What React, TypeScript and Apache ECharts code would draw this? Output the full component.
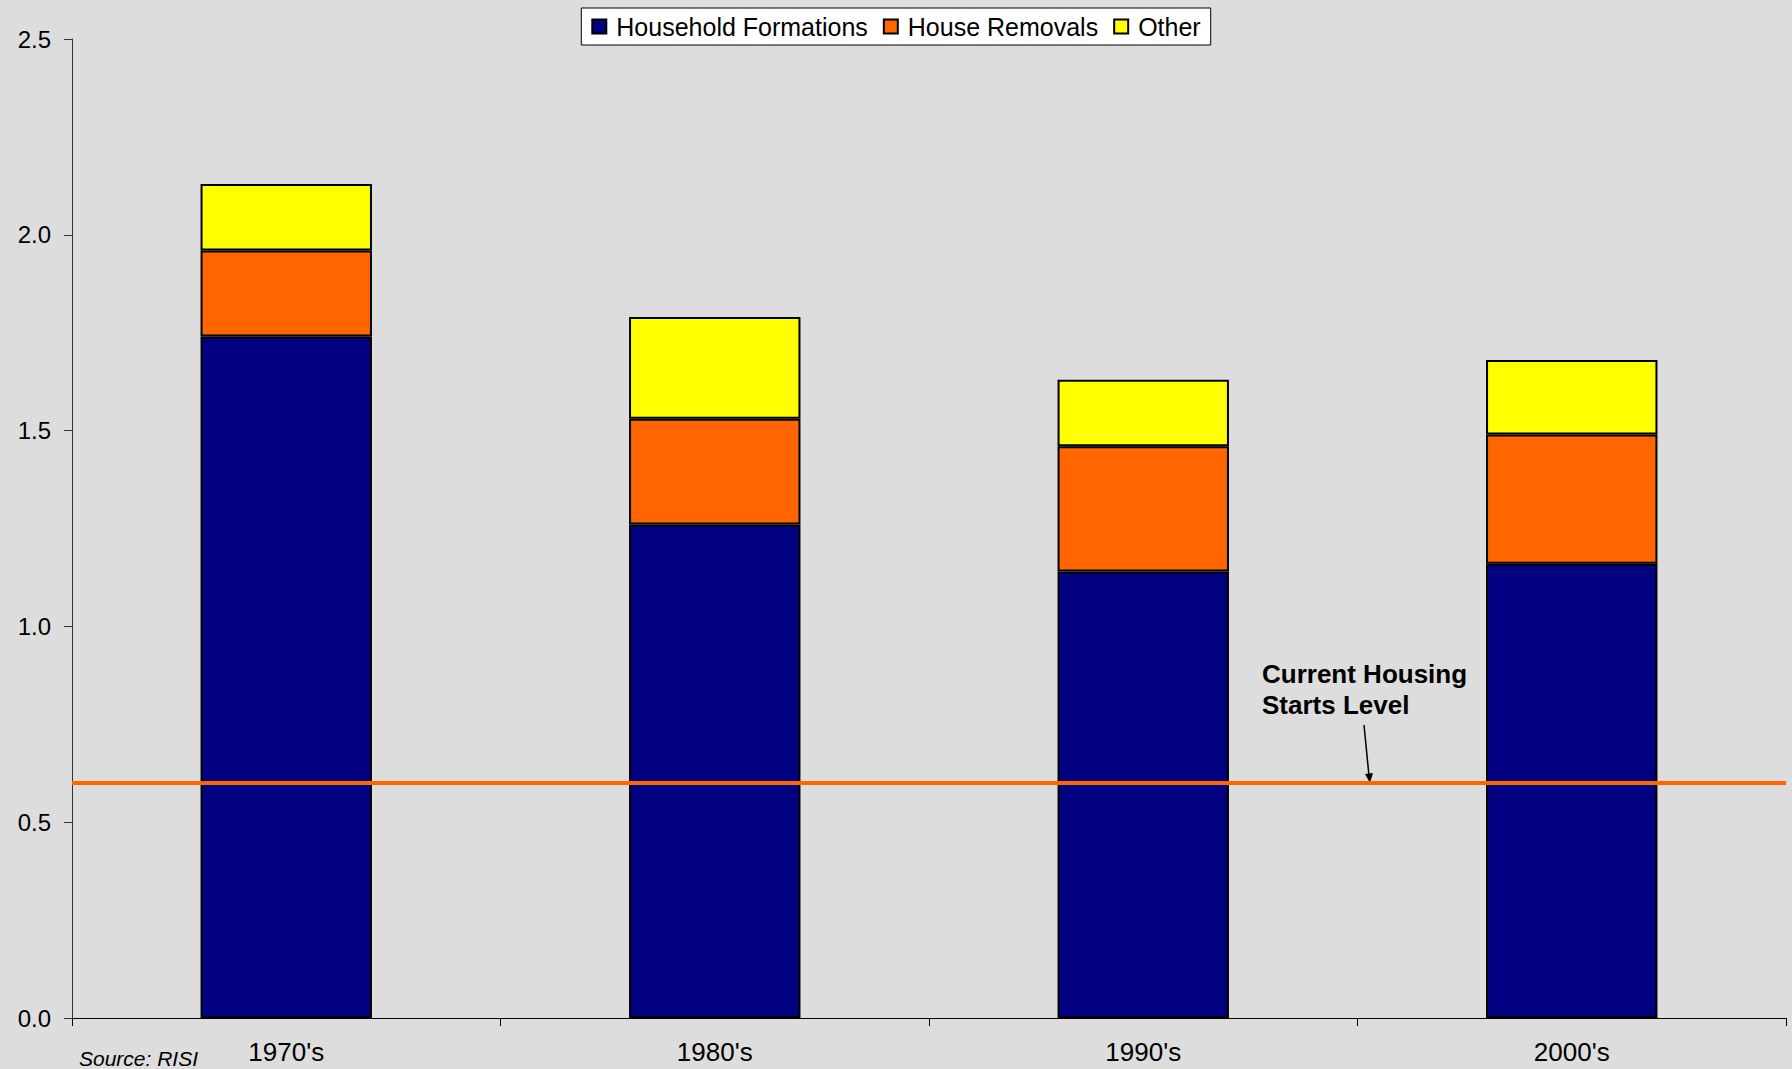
import React, { useEffect, useRef } from "react";
import * as echarts from "echarts";

const categories = ["1970's", "1980's", "1990's", "2000's"];
const householdFormations = [1.74, 1.26, 1.14, 1.16];
const houseRemovals = [0.22, 0.27, 0.32, 0.33];
const other = [0.17, 0.26, 0.17, 0.19];
const currentStartsLevel = 0.6;
const yTicks = { min: 0, max: 2.5, interval: 0.5 };

const FONT = "'Liberation Sans', Arial, sans-serif";

export default function App() {
  const ref = useRef<HTMLDivElement>(null);
  useEffect(() => {
    if (!ref.current) return;
    const chart = echarts.init(ref.current, undefined, { renderer: "svg" });
    const barBase = { type: "bar", stack: "total", barWidth: "40%" };
    chart.setOption({
      animation: false,
      backgroundColor: "#DDDDDD",
      textStyle: { fontFamily: FONT },
      grid: { left: 72, right: 6, top: 39, bottom: 51 },
      legend: {
        top: 8,
        left: "center",
        backgroundColor: "#FFFFFF",
        borderColor: "#000000",
        borderWidth: 1,
        padding: [6, 10, 6, 10],
        itemWidth: 14,
        itemHeight: 14,
        itemGap: 15,
        icon: "rect",
        textStyle: { fontFamily: FONT, fontSize: 25, color: "#000", padding: [0, 0, 0, 5] },
        data: ["Household Formations", "House Removals", "Other"],
      },
      xAxis: {
        type: "category",
        data: categories,
        axisLine: { lineStyle: { color: "#000", width: 1 } },
        axisTick: { show: true, length: 8, lineStyle: { color: "#000" } },
        axisLabel: { fontFamily: FONT, fontSize: 26, color: "#000", margin: 21 },
      },
      yAxis: {
        type: "value",
        min: yTicks.min,
        max: yTicks.max,
        interval: yTicks.interval,
        axisLine: { show: true, lineStyle: { color: "#333", width: 1 } },
        axisTick: { show: true, length: 8, lineStyle: { color: "#333" } },
        splitLine: { show: false },
        axisLabel: {
          fontFamily: FONT,
          fontSize: 24,
          color: "#000",
          margin: 21,
          formatter: (v: number) => v.toFixed(1),
        },
      },
      series: [
        {
          ...barBase,
          name: "Household Formations",
          data: householdFormations,
          itemStyle: { color: "#000080", borderColor: "#000", borderWidth: 2 },
          markLine: {
            silent: true,
            symbol: "none",
            label: { show: false },
            lineStyle: { color: "#FF6600", width: 4, type: "solid" },
            data: [{ yAxis: currentStartsLevel }],
          },
          z: 2,
        },
        {
          ...barBase,
          name: "House Removals",
          data: houseRemovals,
          itemStyle: { color: "#FF6600", borderColor: "#000", borderWidth: 2 },
        },
        {
          ...barBase,
          name: "Other",
          data: other,
          itemStyle: { color: "#FFFF00", borderColor: "#000", borderWidth: 2 },
        },
      ],
      graphic: [
        {
          type: "text",
          left: 1262,
          top: 658,
          style: {
            text: "Current Housing\nStarts Level",
            fontFamily: FONT,
            fontSize: 26,
            fontWeight: "bold",
            fill: "#000",
            lineHeight: 31,
          },
        },
        {
          type: "line",
          shape: { x1: 1364, y1: 725, x2: 1369, y2: 776 },
          style: { stroke: "#000", lineWidth: 1.5 },
        },
        {
          type: "polygon",
          shape: { points: [[1365, 774], [1373, 773], [1370, 783]] },
          style: { fill: "#000" },
        },
        {
          type: "text",
          left: 79,
          top: 1048,
          style: {
            text: "Source: RISI",
            fontFamily: FONT,
            fontSize: 21,
            fontStyle: "italic",
            fill: "#000",
          },
        },
      ],
    });
    return () => chart.dispose();
  }, []);
  return <div ref={ref} style={{ width: 1792, height: 1069, position: "absolute", left: 0, top: 0 }} />;
}
